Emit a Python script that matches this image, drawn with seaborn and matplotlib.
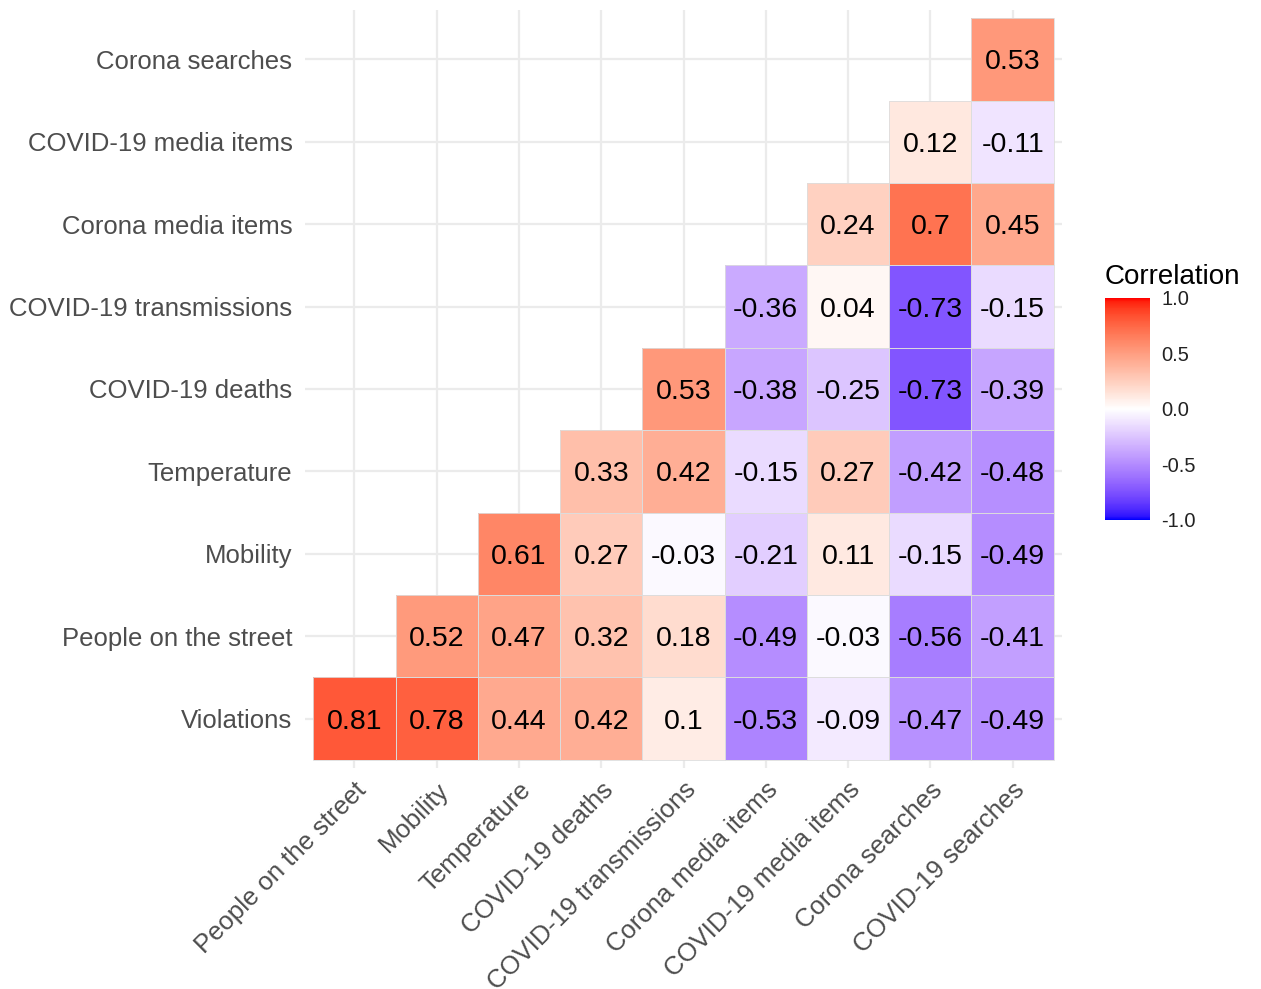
import numpy as np
import pandas as pd
import matplotlib
matplotlib.use("Agg")
import matplotlib.pyplot as plt
import seaborn as sns
from matplotlib.colors import ListedColormap
from matplotlib.patches import Rectangle

# Variables (columns left to right, rows top to bottom)
col_labels = ["People on the street", "Mobility", "Temperature", "COVID-19 deaths",
              "COVID-19 transmissions", "Corona media items", "COVID-19 media items",
              "Corona searches", "COVID-19 searches"]
row_labels = ["Corona searches", "COVID-19 media items", "Corona media items",
              "COVID-19 transmissions", "COVID-19 deaths", "Temperature", "Mobility",
              "People on the street", "Violations"]

# Correlation values per row (only the lower triangle that is shown)
r_corona_searches = [0.53]
r_covid_media = [0.12, -0.11]
r_corona_media = [0.24, 0.7, 0.45]
r_covid_trans = [-0.36, 0.04, -0.73, -0.15]
r_covid_deaths = [0.53, -0.38, -0.25, -0.73, -0.39]
r_temperature = [0.33, 0.42, -0.15, 0.27, -0.42, -0.48]
r_mobility = [0.61, 0.27, -0.03, -0.21, 0.11, -0.15, -0.49]
r_people = [0.52, 0.47, 0.32, 0.18, -0.49, -0.03, -0.56, -0.41]
r_violations = [0.81, 0.78, 0.44, 0.42, 0.1, -0.53, -0.09, -0.47, -0.49]

rows = [r_corona_searches, r_covid_media, r_corona_media, r_covid_trans,
        r_covid_deaths, r_temperature, r_mobility, r_people, r_violations]

n = len(col_labels)
mat = np.full((n, n), np.nan)
for i, vals in enumerate(rows):
    mat[i, n - len(vals):] = vals
df = pd.DataFrame(mat, index=row_labels, columns=col_labels)
annot = np.where(np.isnan(mat), "", np.vectorize(lambda v: f"{v:g}")(mat))


# ggplot-like diverging gradient (interpolated in CIELAB)
def srgb_to_lab(rgb):
    rgb = np.asarray(rgb, float)
    lin = np.where(rgb <= 0.04045, rgb / 12.92, ((rgb + 0.055) / 1.055) ** 2.4)
    m = np.array([[0.4124, 0.3576, 0.1805],
                  [0.2126, 0.7152, 0.0722],
                  [0.0193, 0.1192, 0.9505]])
    xyz = m @ lin / np.array([0.95047, 1.0, 1.08883])
    f = np.where(xyz > 0.008856, np.cbrt(xyz), 7.787 * xyz + 16 / 116)
    return np.array([116 * f[1] - 16, 500 * (f[0] - f[1]), 200 * (f[1] - f[2])])


def lab_to_srgb(lab):
    L, a, b = lab
    fy = (L + 16) / 116
    fx = fy + a / 500
    fz = fy - b / 200
    f = np.array([fx, fy, fz])
    xyz = np.where(f ** 3 > 0.008856, f ** 3, (f - 16 / 116) / 7.787)
    xyz = xyz * np.array([0.95047, 1.0, 1.08883])
    m = np.array([[3.2406, -1.5372, -0.4986],
                  [-0.9689, 1.8758, 0.0415],
                  [0.0557, -0.2040, 1.0570]])
    lin = m @ xyz
    rgb = np.where(lin <= 0.0031308, 12.92 * lin, 1.055 * np.clip(lin, 0, None) ** (1 / 2.4) - 0.055)
    return np.clip(rgb, 0, 1)


lab_low = srgb_to_lab([0, 0, 1])
lab_mid = srgb_to_lab([1, 1, 1])
lab_high = srgb_to_lab([1, 0, 0])
colors = []
for v in np.linspace(-1, 1, 256):
    end = lab_low if v < 0 else lab_high
    colors.append(lab_to_srgb(lab_mid + abs(v) * (end - lab_mid)))
cmap = ListedColormap(colors)

sns.set_theme(style="white")
plt.rcParams["font.family"] = ["Liberation Sans", "DejaVu Sans"]

W, H = 1261, 989
fig = plt.figure(figsize=(W / 100, H / 100), dpi=100)
ax = fig.add_axes([305 / W, 1 - 768 / H, (1062 - 305) / W, (768 - 10) / H])
cax = fig.add_axes([1105 / W, 1 - 520 / H, 45 / W, 222 / H])

sns.heatmap(df, ax=ax, cbar_ax=cax, cmap=cmap, vmin=-1, vmax=1,
            annot=annot, fmt="",
            annot_kws={"color": "black", "fontsize": 20.5, "va": "center_baseline"},
            linewidths=0)

# thin light borders only around the drawn tiles
for i in range(n):
    for j in range(n):
        if not np.isnan(mat[i, j]):
            ax.add_patch(Rectangle((j, i), 1, 1, fill=False, edgecolor="#DDDDDD",
                                   linewidth=0.6, zorder=2))

pad = 0.1
ax.set_xlim(-pad, n + pad)
ax.set_ylim(n + pad, -pad)
ax.set_axisbelow(True)
ax.grid(True, color="#EBEBEB", linewidth=1.6)
for s in ax.spines.values():
    s.set_visible(False)
ax.tick_params(length=0)
ax.tick_params(axis="y", pad=9, labelsize=18.5, labelcolor="#4D4D4D")
ax.tick_params(axis="x", pad=7, labelsize=18.5, labelcolor="#4D4D4D")
ax.set_yticklabels(row_labels, rotation=0, va="center_baseline")
ax.set_xticklabels(col_labels, rotation=45, ha="right", rotation_mode="anchor")
ax.set_xlabel("")
ax.set_ylabel("")

cbar = ax.collections[0].colorbar
cbar.outline.set_visible(False)
cbar.set_ticks([-1.0, -0.5, 0.0, 0.5, 1.0])
cbar.set_ticklabels(["-1.0", "-0.5", "0.0", "0.5", "1.0"])
cax.tick_params(axis="y", left=True, right=True, direction="in", length=4,
                width=1, color="white", pad=8, labelsize=14.5, labelcolor="#222222")
cax.set_title("Correlation", loc="left", fontsize=20, pad=10, color="black")

fig.savefig("out.png", dpi=100)
